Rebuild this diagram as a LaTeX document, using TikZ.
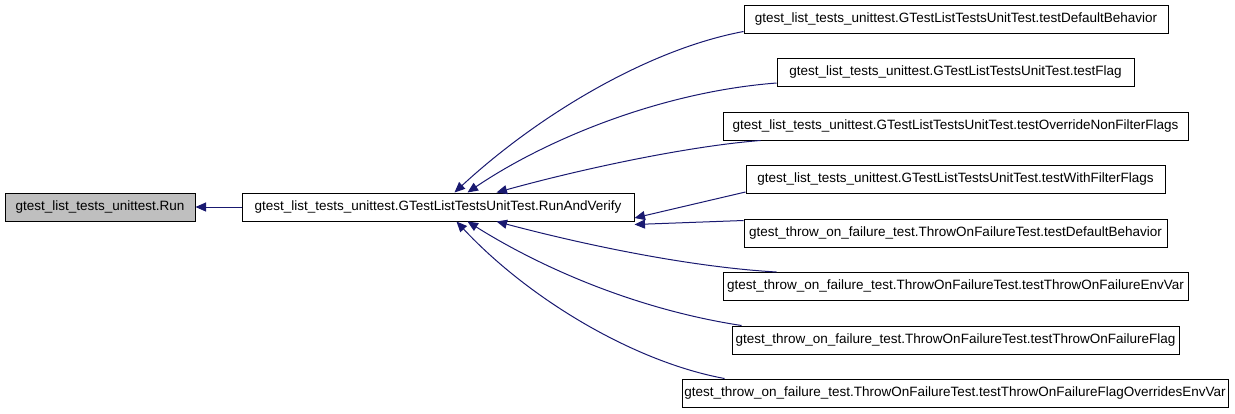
\documentclass[tikz,border=0pt]{standalone}
\usepackage{fontspec}
\setmainfont{Liberation Sans}
\usetikzlibrary{arrows.meta}
\definecolor{edgeblue}{HTML}{191970}
\definecolor{rootgray}{HTML}{BFBFBF}
\begin{document}
\begin{tikzpicture}[x=1pt,y=-1pt,
  box/.style={draw=black,line width=1pt,rectangle,minimum height=28pt,inner sep=0pt,anchor=center,
    font=\fontsize{13.5}{16}\selectfont},
  edge/.style={draw=edgeblue,line width=1pt,-{Triangle[length=10.5pt,width=9pt]},fill=none}]
\useasboundingbox (0,0) rectangle (1235,413);
\node[box,fill=rootgray,minimum width=190pt] (run) at (100,207) {gtest\_list\_tests\_unittest.Run};
\node[box,minimum width=392pt] (rav) at (438,207) {gtest\_list\_tests\_unittest.GTestListTestsUnitTest.RunAndVerify};
\node[box,minimum width=424pt] (t1) at (956,19) {gtest\_list\_tests\_unittest.GTestListTestsUnitTest.testDefaultBehavior};
\node[box,minimum width=357pt] (t2) at (955.5,72.5) {gtest\_list\_tests\_unittest.GTestListTestsUnitTest.testFlag};
\node[box,minimum width=465pt] (t3) at (955.5,126) {gtest\_list\_tests\_unittest.GTestListTestsUnitTest.testOverrideNonFilterFlags};
\node[box,minimum width=419pt] (t4) at (955.5,179.5) {gtest\_list\_tests\_unittest.GTestListTestsUnitTest.testWithFilterFlags};
\node[box,minimum width=423pt] (t5) at (955.5,233) {gtest\_throw\_on\_failure\_test.ThrowOnFailureTest.testDefaultBehavior};
\node[box,minimum width=465pt] (t6) at (955.5,286.5) {gtest\_throw\_on\_failure\_test.ThrowOnFailureTest.testThrowOnFailureEnvVar};
\node[box,minimum width=447pt] (t7) at (955.5,340) {gtest\_throw\_on\_failure\_test.ThrowOnFailureTest.testThrowOnFailureFlag};
\node[box,minimum width=546pt] (t8) at (955,393) {gtest\_throw\_on\_failure\_test.ThrowOnFailureTest.testThrowOnFailureFlagOverridesEnvVar};
% edges
\draw[edge] (rav.west) -- (run.east);
\draw[edge] ([yshift=2pt]t1.south west) .. controls (645,50) and (535,118) .. ([xshift=213pt]rav.north west);
\draw[edge] ([yshift=4pt]t2.south west) .. controls (660,92) and (545,140) .. ([xshift=226pt]rav.north west);
\draw[edge] ([xshift=38pt]t3.south west) .. controls (690,146) and (585,168) .. ([xshift=255pt]rav.north west);
\draw[edge] ([yshift=2pt]t4.south west) -- ([yshift=-11pt]rav.east);
\draw[edge] ([yshift=-2pt]t5.north west) -- ([yshift=-3pt]rav.south east);
\draw[edge] ([xshift=54pt]t6.north west) .. controls (690,267) and (585,245) .. ([xshift=255pt]rav.south west);
\draw[edge] ([xshift=10pt]t7.north west) .. controls (640,310) and (545,270) .. ([xshift=226pt]rav.south west);
\draw[edge] ([xshift=43pt]t8.north west) .. controls (635,362) and (530,300) .. ([xshift=215pt]rav.south west);
\end{tikzpicture}
\end{document}
